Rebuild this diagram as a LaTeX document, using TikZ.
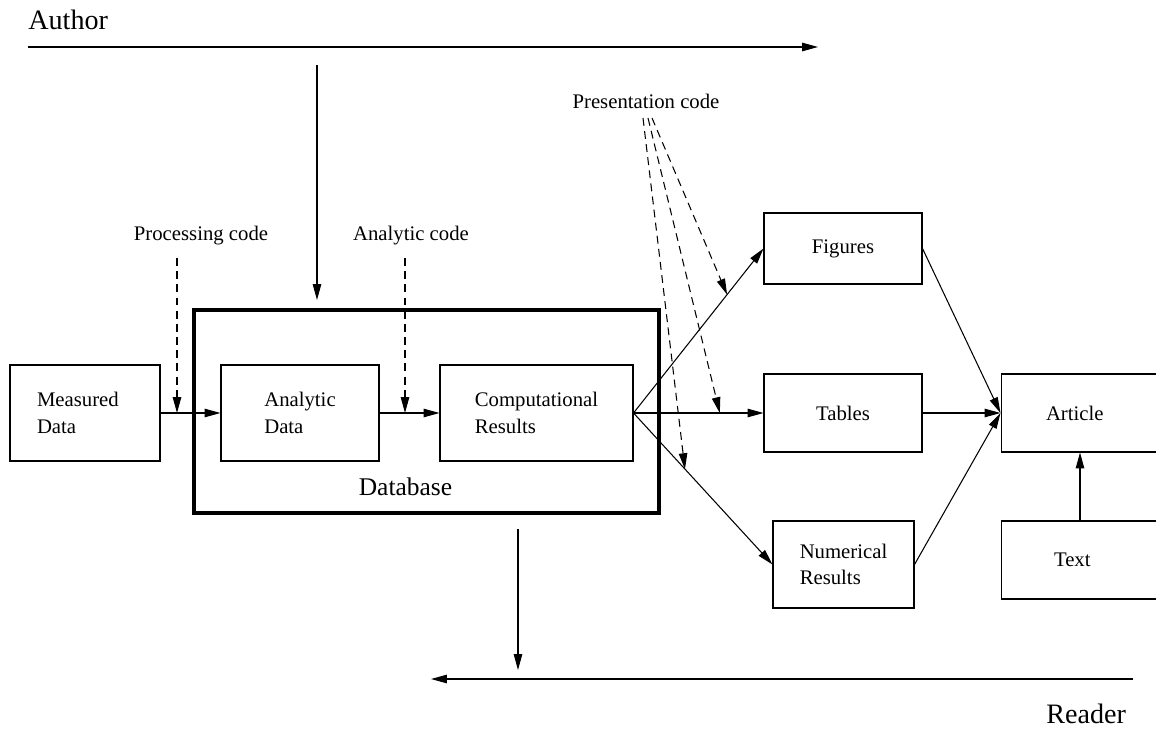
\documentclass[tikz,border=0pt]{standalone}
\usepackage{fontspec}
\setmainfont{Liberation Serif}
\usetikzlibrary{arrows.meta}

\tikzset{
  small/.style={font=\fontsize{11.8}{15}\selectfont},
  big/.style={font=\fontsize{14.5}{17}\selectfont},
  box/.style={draw,line width=0.6pt,small,align=left},
  arr/.style={line width=0.6pt,-{Triangle[length=9pt,width=4.8pt]}},
  dasharr/.style={arr,dash pattern=on 4.5pt off 3pt},
}

\begin{document}
\begin{tikzpicture}[x=0.02cm,y=-0.02cm]
\clip (0,0) rectangle (1156,730);
% time lines of author and reader
\node[big,font=\fontsize{16}{18}\selectfont,inner sep=0pt,anchor=base west] (author) at (28,30) {Author};
\node[big,font=\fontsize{16}{18}\selectfont,inner sep=0pt,anchor=base west] (reader) at (1046,723) {Reader};
\coordinate (au1) at (28,47);
\coordinate (au2) at (818,47);
\coordinate (re1) at (1133,679);
\coordinate (re2) at (431,679);
\draw[arr] (au1) -- (au2);
\draw[arr] (re1) -- (re2);

% database and its contents
\node[draw,line width=1.8pt,minimum width=9.3cm,minimum height=4.06cm] (db) at (426.5,411.5) {};
\node[big,anchor=base] (dblabel) at (405.5,495) {Database};
\node[box,text width=1.92cm,inner xsep=0.54cm,minimum height=1.92cm] (meas) at (85,413) {Measured\\Data};
\node[box,minimum width=3.16cm,minimum height=1.92cm] (anl) at (300,413) {Analytic\\Data};
\node[box,minimum width=3.86cm,minimum height=1.92cm] (comp) at (536.5,413) {Computational\\Results};

% outputs
\node[box,minimum width=3.16cm,minimum height=1.42cm] (fig) at (843,248.5) {Figures};
\node[box,minimum width=3.16cm,minimum height=1.56cm] (tab) at (843,413) {Tables};
\node[box,minimum width=2.82cm,minimum height=1.74cm] (num) at (843.5,564.5) {Numerical\\Results};
\node[box,text width=1.36cm,inner xsep=0.9cm,minimum height=1.56cm] (art) at (1080,413) {Article};
\node[box,text width=1.04cm,inner xsep=1.06cm,minimum height=1.56cm] (txt) at (1080,560) {Text};

% code labels
\node[small,anchor=base] (proc) at (201,240) {Processing code};
\node[small,anchor=base] (anlc) at (411,240) {Analytic code};
\node[small,anchor=base] (pres) at (646,108) {Presentation code};

% main flow
\draw[arr] (meas) -- (anl);
\draw[arr] (anl) -- (comp);
\draw[arr] (comp.east) -- coordinate[pos=0.72] (figtip) (fig.west);
\draw[arr] (comp.east) -- coordinate[pos=0.664] (tabtip) (tab.west);
\draw[arr] (comp.east) -- coordinate[pos=0.37] (numtip) (num.west);
\draw[arr] (fig.east) -- (art.west);
\draw[arr] (tab.east) -- (art.west);
\draw[arr] (num.east) -- (art.west);
\draw[arr] (txt) -- (art);

% author in, reader out
\coordinate (ad1) at (317,65);
\coordinate (ad2) at (317,300);
\coordinate (rd1) at (518,529);
\coordinate (rd2) at (518,670);
\draw[arr] (ad1) -- (ad2);
\draw[arr] (rd1) -- (rd2);

% code applied to the data
\coordinate (pc1) at (177,258);
\coordinate (pc2) at (177,413);
\coordinate (ac1) at (405,258);
\coordinate (ac2) at (405,413);
\draw[dasharr] (pc1) -- (pc2);
\draw[dasharr] (ac1) -- (ac2);
\foreach \xs/\tip in {652/figtip, 648/tabtip, 643/numtip} {
  \draw[dasharr] (\xs,118) -- (\tip);
}
\end{tikzpicture}
\end{document}
